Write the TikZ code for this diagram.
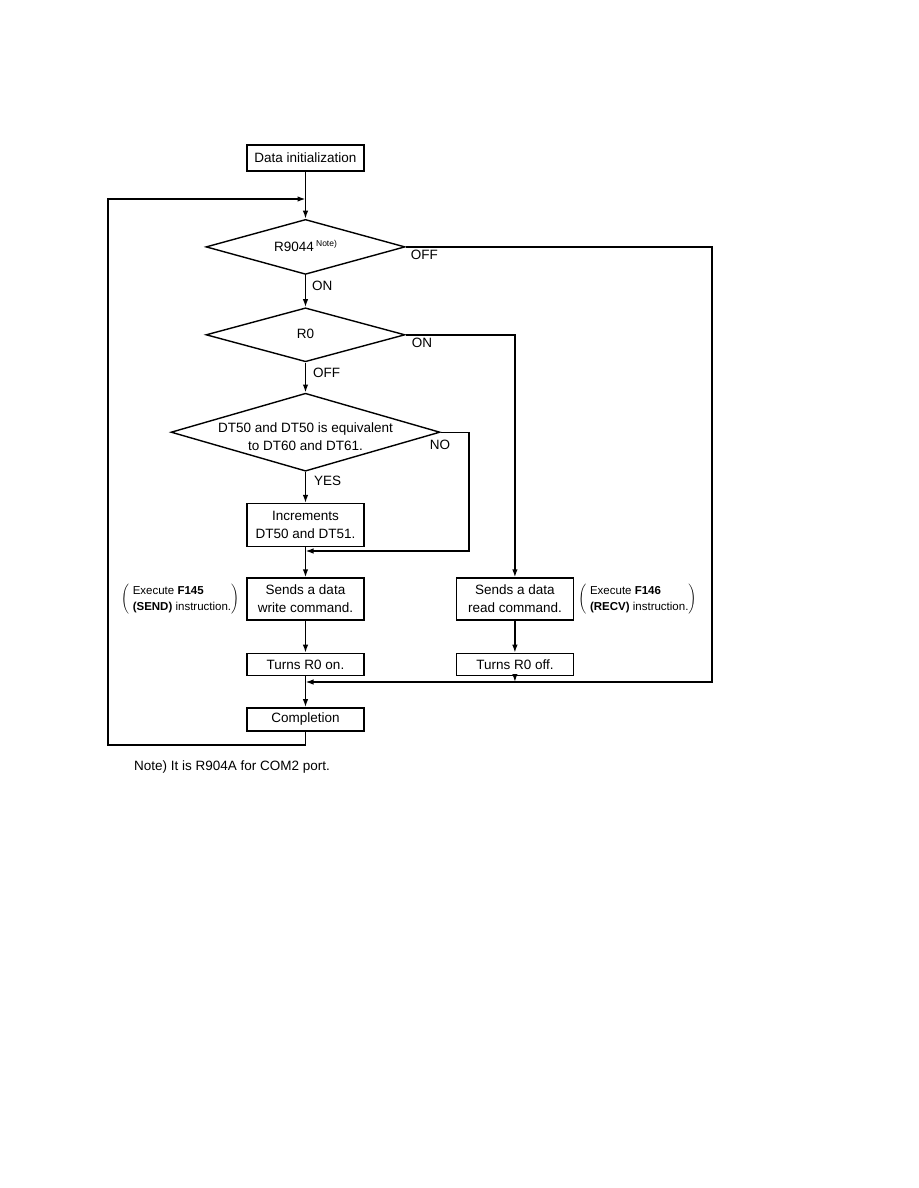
\documentclass[tikz,border=0pt]{standalone}
\usepackage{fontspec}
\setmainfont{Liberation Sans}
\usetikzlibrary{arrows.meta, positioning, shapes.geometric}

\begin{document}
\begin{tikzpicture}[
    x=1pt, y=-1pt,
    font=\fontsize{13.5}{18}\selectfont,
    box/.style={rectangle, draw, line width=1.4pt, minimum width=117pt, inner sep=2pt, align=center},
    test/.style={diamond, draw, line width=1.4pt, inner sep=0pt, minimum width=199pt},
    arrow/.style={-{Latex[length=8pt,width=5.5pt]}, line width=1.4pt},
    tag/.style={inner sep=0pt},
    paren/.style={inner sep=0pt, font=\fontsize{11.5}{16}\selectfont}
]
\useasboundingbox (0,0) rectangle (918,1188);

\node[box, minimum height=26pt] (init) at (305.5,158) {Data initialization};
\node[test, minimum height=55pt, below=47pt of init,
      label={[yshift=1pt]center:R9044\,\raisebox{0.6ex}{\fontsize{8.5}{9}\selectfont Note)}}] (r9044) {};
\node[test, minimum height=54pt, below=32pt of r9044,
      label={[yshift=1pt]center:R0}] (r0) {};
\node[test, minimum width=269pt, minimum height=78pt, below=30pt of r0,
      label={[align=center, yshift=-4pt]center:DT50 and DT50 is equivalent\\to DT60 and DT61.}] (cmp) {};
\node[box, minimum height=43pt, below=31pt of cmp] (incr) {Increments\\DT50 and DT51.};
\node[box, minimum height=42pt, below=30pt of incr] (write) {Sends a data\\write command.};
\node[box, minimum height=42pt, right=91pt of write] (read) {Sends a data\\read command.};
\node[box, minimum height=22pt, below=32pt of write] (on) {Turns R0 on.};
\node[box, minimum height=22pt, below=32pt of read] (off) {Turns R0 off.};
\node[box, minimum height=23pt, below=31pt of on] (done) {Completion};

\node[paren, left=7pt of write] (sendnote) {$\left(\vcenter{\hbox{\,\,\begin{tabular}{@{}l@{}}Execute \textbf{F145}\\\textbf{(SEND)} instruction.\end{tabular}}}\right)$};
\node[paren, right=4pt of read] (recvnote) {$\left(\vcenter{\hbox{\,\,\begin{tabular}{@{}l@{}}Execute \textbf{F146}\\\textbf{(RECV)} instruction.\end{tabular}}}\right)$};

\node[tag, below right=3pt and 5pt of r9044.east] (offa) {OFF};
\node[tag, below right=3pt and 6pt of r0.east] (ona) {ON};
\node[tag, anchor=north west] (no) at ([shift={(-11,8)}]cmp.east) {NO};
\node[tag, anchor=west] (note) at (134,767) {Note) It is R904A for COM2 port.};

\coordinate (loopin) at (305.5,199);
\coordinate (loopout) at (108,745);
\coordinate (rim) at (712,682);
\coordinate (merge) at (305.5,682);
\coordinate (nocorner) at (469,551);
\coordinate (nojoin) at (305.5,551);

\draw[arrow] (init) -- (r9044);
\draw[arrow] (done.south) |- (loopout) |- (loopin);
\draw[arrow] (r9044) -- node[tag, right, pos=0.35, xshift=6pt]{ON} (r0);
\draw[arrow] (r9044.east) -| (rim) -- (merge);
\draw[arrow] (r0) -- node[tag, right, pos=0.35, xshift=7pt]{OFF} (cmp);
\draw[arrow] (r0.east) -| (read.north);
\draw[arrow] (cmp) -- node[tag, right, pos=0.3, xshift=8pt]{YES} (incr);
\draw[arrow] (cmp.east) -| (nocorner) -- (nojoin);
\draw[arrow] (incr) -- (write);
\draw[arrow] (read) -- (off);
\draw[arrow] (write) -- (on);
\draw[arrow] (off.south) -- (off.south |- merge);
\draw[arrow] (on) -- (done);
\end{tikzpicture}
\end{document}
